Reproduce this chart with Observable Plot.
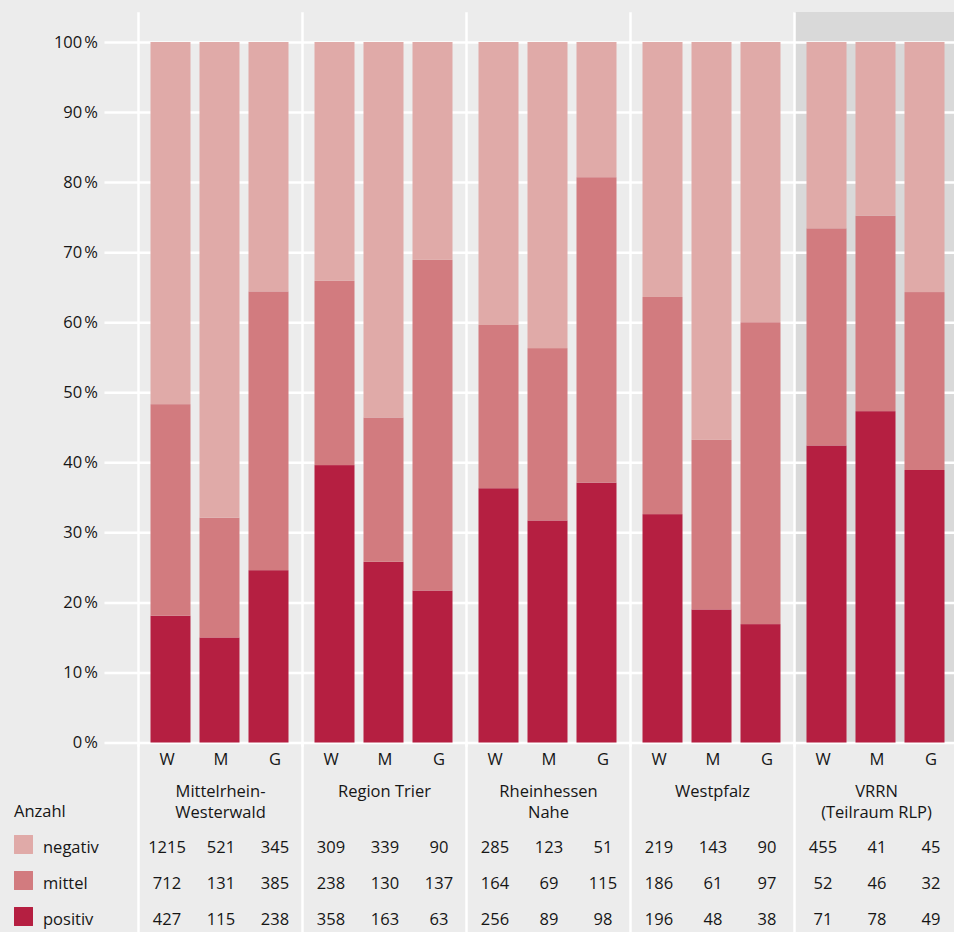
<!DOCTYPE html>
<html>
<head>
<meta charset="utf-8">
<script src="https://cdn.jsdelivr.net/npm/d3@7"></script>
<script src="https://cdn.jsdelivr.net/npm/@observablehq/plot@0.6"></script>
<style>
  html, body { margin: 0; padding: 0; background: #ececec; overflow: hidden; }
  #chart { width: 954px; height: 932px; overflow: hidden; }
  #chart svg { display: block; overflow: visible; max-width: none !important; }
</style>
</head>
<body>
<div id="chart"></div>
<script>
// ---- data ----
const regions = ["Mittelrhein-\nWesterwald", "Region Trier", "Rheinhessen\nNahe", "Westpfalz", "VRRN\n(Teilraum RLP)"];
const categories = ["W", "M", "G"];
const seriesNames = ["negativ", "mittel", "positiv"];
const stackOrder = ["positiv", "mittel", "negativ"];
const seriesColors = ["#e0aaa8", "#d27b7f", "#b51f41"];
const highlightRegion = ["VRRN\n(Teilraum RLP)"];
const yTicks = [0, 10, 20, 30, 40, 50, 60, 70, 80, 90, 100];
const tableHeader = ["Anzahl"];

// bar shares in percent, order: region x category
const positivPct = [18.1, 15.0, 24.6, 39.6, 25.8, 21.7, 36.3, 31.7, 37.1, 32.6, 19.0, 16.9, 42.4, 47.3, 38.9];
const mittelPct  = [30.2, 17.1, 39.8, 26.3, 20.6, 47.2, 23.3, 24.6, 43.6, 31.0, 24.2, 43.1, 31.0, 27.9, 25.4];
const negativPct = [51.7, 67.9, 35.6, 34.1, 53.6, 31.1, 40.4, 43.7, 19.3, 36.4, 56.8, 40.0, 26.6, 24.8, 35.7];

// counts in the table
const negativCounts = [1215, 521, 345, 309, 339, 90, 285, 123, 51, 219, 143, 90, 455, 41, 45];
const mittelCounts  = [712, 131, 385, 238, 130, 137, 164, 69, 115, 186, 61, 97, 52, 46, 32];
const positivCounts = [427, 115, 238, 358, 163, 63, 256, 89, 98, 196, 48, 38, 71, 78, 49];

const pctBySeries = {negativ: negativPct, mittel: mittelPct, positiv: positivPct};
const countBySeries = {negativ: negativCounts, mittel: mittelCounts, positiv: positivCounts};

const bars = [];
const counts = [];
regions.forEach((region, i) => {
  categories.forEach((kat, j) => {
    const k = i * categories.length + j;
    stackOrder.forEach(serie => bars.push({region, kat, serie, pct: pctBySeries[serie][k]}));
    seriesNames.forEach(serie => counts.push({region, kat, serie, n: countBySeries[serie][k]}));
  });
});

// ---- layout ----
const ink = "#161616";
const fs = 16.5;
const common = {
  width: 959,
  marginLeft: 136.5,
  marginRight: 0,
  fx: {domain: regions, padding: 0, axis: null},
  x: {domain: categories, paddingInner: 0.18, paddingOuter: 0.235, axis: null},
  color: {domain: seriesNames, range: seriesColors},
  style: {fontFamily: "'Open Sans', sans-serif", fontSize: fs + "px", color: ink, background: "transparent", overflow: "visible", maxWidth: "none"}
};

const chart = Plot.plot({
  ...common,
  height: 745,
  marginTop: 42,
  marginBottom: 2.5,
  y: {domain: [0, 100], axis: null},
  marks: [
    Plot.rect(highlightRegion, {fx: d => d, fill: "#d9d9d9", insetTop: -30}),
    Plot.gridY(yTicks, {stroke: "white", strokeOpacity: 1, strokeWidth: 2.5}),
    Plot.frame({anchor: "left", stroke: "white", strokeOpacity: 1, strokeWidth: 2.5, insetTop: -29, insetBottom: -2.5}),
    Plot.barY(bars, {fx: "region", x: "kat", y: "pct", fill: "serie"}),
    Plot.axisY(yTicks, {
      anchor: "left", tickSize: 33.5, tickPadding: 7,
      stroke: "white", strokeOpacity: 1, strokeWidth: 2.5, fill: ink, fontSize: fs,
      tickFormat: d => d + "\u202f%", label: null
    })
  ]
});

const table = Plot.plot({
  ...common,
  height: 187,
  marginTop: 65.5,
  marginBottom: 12,
  y: {type: "point", domain: [...tableHeader, ...seriesNames], padding: 0, axis: null},
  marks: [
    Plot.frame({anchor: "left", stroke: "white", strokeOpacity: 1, strokeWidth: 2.5, insetTop: -65.5, insetBottom: -12}),
    Plot.axisX({anchor: "top", tickSize: 0, tickPadding: 51.5, lineAnchor: "middle", fill: ink, fontSize: fs, label: null}),
    Plot.axisFx({anchor: "top", tickSize: 0, tickPadding: 29.5, lineAnchor: "top", lineHeight: 1.3, fill: ink, fontSize: fs, label: null}),
    Plot.text(counts, {fx: "region", x: "kat", y: "serie", text: d => String(d.n), fill: ink, fontSize: fs}),
    Plot.text(tableHeader, {y: d => d, frameAnchor: "left", textAnchor: "start", dx: -124.5, fill: ink, fontSize: fs, facetAnchor: "left"}),
    Plot.axisY(seriesNames, {anchor: "left", tickSize: 0, tickPadding: 95.5, textAnchor: "start", fill: ink, fontSize: fs, label: null}),
    Plot.dot(seriesNames, {y: d => d, fill: d => d, symbol: "square", r: 10.7, frameAnchor: "left", dx: -115, dy: -3, facetAnchor: "left"})
  ]
});

const root = document.getElementById("chart");
root.append(chart, table);
</script>
</body>
</html>
